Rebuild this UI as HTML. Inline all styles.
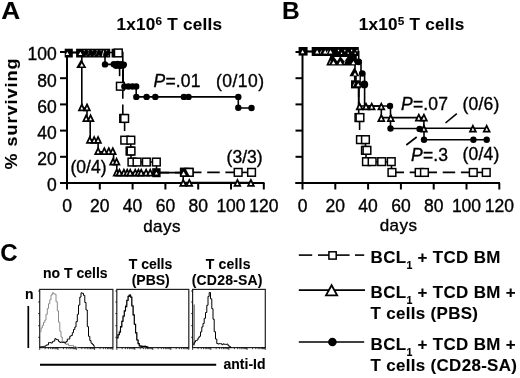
<!DOCTYPE html>
<html><head><meta charset="utf-8"><style>
html,body{margin:0;padding:0;background:#fff;}
svg{display:block;font-family:"Liberation Sans", sans-serif;filter:grayscale(1);}
text{stroke:#000;stroke-width:0.35px;}
text[font-weight="bold"]{stroke-width:0.1px;}
</style></head><body>
<svg width="520" height="378" viewBox="0 0 520 378">
<rect width="520" height="378" fill="#fff"/>
<line x1="67" y1="51" x2="67" y2="184" stroke="#000" stroke-width="2.0" />
<line x1="60" y1="183" x2="264.5" y2="183" stroke="#000" stroke-width="2.0" />
<line x1="60" y1="183.0" x2="67" y2="183.0" stroke="#000" stroke-width="2.0" />
<line x1="60" y1="156.8" x2="67" y2="156.8" stroke="#000" stroke-width="2.0" />
<line x1="60" y1="130.6" x2="67" y2="130.6" stroke="#000" stroke-width="2.0" />
<line x1="60" y1="104.4" x2="67" y2="104.4" stroke="#000" stroke-width="2.0" />
<line x1="60" y1="78.2" x2="67" y2="78.2" stroke="#000" stroke-width="2.0" />
<line x1="60" y1="52.0" x2="67" y2="52.0" stroke="#000" stroke-width="2.0" />
<line x1="67.0" y1="183" x2="67.0" y2="189.5" stroke="#000" stroke-width="2.0" />
<line x1="99.8" y1="183" x2="99.8" y2="189.5" stroke="#000" stroke-width="2.0" />
<line x1="132.6" y1="183" x2="132.6" y2="189.5" stroke="#000" stroke-width="2.0" />
<line x1="165.39999999999998" y1="183" x2="165.39999999999998" y2="189.5" stroke="#000" stroke-width="2.0" />
<line x1="198.2" y1="183" x2="198.2" y2="189.5" stroke="#000" stroke-width="2.0" />
<line x1="231.0" y1="183" x2="231.0" y2="189.5" stroke="#000" stroke-width="2.0" />
<line x1="263.79999999999995" y1="183" x2="263.79999999999995" y2="189.5" stroke="#000" stroke-width="2.0" />
<line x1="302.5" y1="51" x2="302.5" y2="184" stroke="#000" stroke-width="2.0" />
<line x1="295.5" y1="183" x2="500" y2="183" stroke="#000" stroke-width="2.0" />
<line x1="295.5" y1="183.0" x2="302.5" y2="183.0" stroke="#000" stroke-width="2.0" />
<line x1="295.5" y1="156.8" x2="302.5" y2="156.8" stroke="#000" stroke-width="2.0" />
<line x1="295.5" y1="130.6" x2="302.5" y2="130.6" stroke="#000" stroke-width="2.0" />
<line x1="295.5" y1="104.4" x2="302.5" y2="104.4" stroke="#000" stroke-width="2.0" />
<line x1="295.5" y1="78.2" x2="302.5" y2="78.2" stroke="#000" stroke-width="2.0" />
<line x1="295.5" y1="52.0" x2="302.5" y2="52.0" stroke="#000" stroke-width="2.0" />
<line x1="302.5" y1="183" x2="302.5" y2="189.5" stroke="#000" stroke-width="2.0" />
<line x1="335.3" y1="183" x2="335.3" y2="189.5" stroke="#000" stroke-width="2.0" />
<line x1="368.1" y1="183" x2="368.1" y2="189.5" stroke="#000" stroke-width="2.0" />
<line x1="400.9" y1="183" x2="400.9" y2="189.5" stroke="#000" stroke-width="2.0" />
<line x1="433.7" y1="183" x2="433.7" y2="189.5" stroke="#000" stroke-width="2.0" />
<line x1="466.5" y1="183" x2="466.5" y2="189.5" stroke="#000" stroke-width="2.0" />
<line x1="499.29999999999995" y1="183" x2="499.29999999999995" y2="189.5" stroke="#000" stroke-width="2.0" />
<text x="56.8" y="191.3" font-size="17.5" text-anchor="end" >0</text>
<text x="56.8" y="165.10000000000002" font-size="17.5" text-anchor="end" >20</text>
<text x="56.8" y="138.9" font-size="17.5" text-anchor="end" >40</text>
<text x="56.8" y="112.7" font-size="17.5" text-anchor="end" >60</text>
<text x="56.8" y="86.5" font-size="17.5" text-anchor="end" >80</text>
<text x="56.8" y="60.3" font-size="17.5" text-anchor="end" >100</text>
<text x="67.0" y="212" font-size="17.5" text-anchor="middle" >0</text>
<text x="302.5" y="212" font-size="17.5" text-anchor="middle" >0</text>
<text x="99.8" y="212" font-size="17.5" text-anchor="middle" >20</text>
<text x="335.3" y="212" font-size="17.5" text-anchor="middle" >20</text>
<text x="132.6" y="212" font-size="17.5" text-anchor="middle" >40</text>
<text x="368.1" y="212" font-size="17.5" text-anchor="middle" >40</text>
<text x="165.39999999999998" y="212" font-size="17.5" text-anchor="middle" >60</text>
<text x="400.9" y="212" font-size="17.5" text-anchor="middle" >60</text>
<text x="198.2" y="212" font-size="17.5" text-anchor="middle" >80</text>
<text x="433.7" y="212" font-size="17.5" text-anchor="middle" >80</text>
<text x="231.0" y="212" font-size="17.5" text-anchor="middle" >100</text>
<text x="466.5" y="212" font-size="17.5" text-anchor="middle" >100</text>
<text x="263.79999999999995" y="212" font-size="17.5" text-anchor="middle" >120</text>
<text x="499.29999999999995" y="212" font-size="17.5" text-anchor="middle" >120</text>
<text x="143.2" y="231.7" font-size="17" letter-spacing="0.45" text-anchor="start" >days</text>
<text x="379.7" y="231.2" font-size="17" letter-spacing="0.45" text-anchor="start" >days</text>
<text transform="translate(1.2,18.9) scale(1.07,1)" font-size="24.5" font-weight="bold">A</text>
<text x="282" y="18.9" font-size="24.5" font-weight="bold" text-anchor="start" >B</text>
<text x="0.3" y="261" font-size="24" font-weight="bold" text-anchor="start" >C</text>
<text transform="translate(116.5,30.2) scale(1.07,1)" font-size="16" font-weight="bold" letter-spacing="0.22">1x10<tspan font-size="11" dy="-4.8">6</tspan><tspan dy="4.8"> T cells</tspan></text>
<text transform="translate(358.8,30.2) scale(1.07,1)" font-size="16" font-weight="bold" letter-spacing="0.22">1x10<tspan font-size="11" dy="-4.8">5</tspan><tspan dy="4.8"> T cells</tspan></text>
<text transform="translate(17.1,169.6) rotate(-90) scale(1.06,1)" x="0" y="0" font-size="17" font-weight="bold" letter-spacing="0.96">% surviving</text>
<path d="M67,52.5 H122.8 V86.2" fill="none" stroke="#000" stroke-width="1.6" stroke-dasharray="12.5 5.7"/>
<path d="M122.8,86.2 V118.4" fill="none" stroke="#000" stroke-width="1.6" stroke-dasharray="12.5 5.7"/>
<path d="M124.6,118.4 V140.2" fill="none" stroke="#000" stroke-width="1.6" stroke-dasharray="12.5 5.7"/>
<path d="M130.8,140.2 V151" fill="none" stroke="#000" stroke-width="1.6" stroke-dasharray="12.5 5.7"/>
<path d="M131,151 V162" fill="none" stroke="#000" stroke-width="1.6" stroke-dasharray="12.5 5.7"/>
<path d="M131.9,162 H156.5" fill="none" stroke="#000" stroke-width="1.6" stroke-dasharray="12.5 5.7"/>
<path d="M156.5,162 V172.6" fill="none" stroke="#000" stroke-width="1.6" stroke-dasharray="12.5 5.7"/>
<path d="M156.6,172.6 H184.5" fill="none" stroke="#000" stroke-width="1.6" stroke-dasharray="12.5 5.7"/>
<path d="M189,172.4 H238.2" fill="none" stroke="#000" stroke-width="1.6" stroke-dasharray="12.5 5.7"/>
<path d="M238.2,172.4 H251.5" fill="none" stroke="#000" stroke-width="1.6" stroke-dasharray="12.5 5.7"/>
<path d="M67,52.5 H81.8 V108 H87 V118.4 H90.2 V140.2 H98.1 V151.7 H113.6 V162 H116.8 V172.6 H183.2 V182.5 H251" fill="none" stroke="#000" stroke-width="1.6"/>
<path d="M67,52.5 H105 V64.4 H123.2 V86.5 H136.2 V96.9 H238.3 V108 H251.5" fill="none" stroke="#000" stroke-width="1.6"/>
<line x1="119.6" y1="68" x2="119.6" y2="76.2" stroke="#000" stroke-width="1.6" />
<rect x="76.1" y="48.7" width="34.1" height="8.8" fill="#000"/>
<rect x="111.6" y="48.7" width="3" height="8.8" fill="#000"/>
<rect x="64.7" y="48.7" width="8.1" height="8.8" fill="#000"/>
<path d="M67.4,51.7 L69.2,55.1 L65.6,55.1 Z" fill="#fff"/>
<path d="M80.4,51.7 L82.2,55.1 L78.6,55.1 Z" fill="#fff"/>
<rect x="83.7" y="50.0" width="1.3" height="1.2" fill="#777"/>
<rect x="85.5" y="55.2" width="1.3" height="1.1" fill="#666"/>
<rect x="87.80000000000001" y="50.0" width="1.3" height="1.2" fill="#777"/>
<rect x="89.60000000000001" y="55.2" width="1.3" height="1.1" fill="#666"/>
<rect x="91.80000000000001" y="50.0" width="1.3" height="1.2" fill="#777"/>
<rect x="93.60000000000001" y="55.2" width="1.3" height="1.1" fill="#666"/>
<rect x="96.4" y="50.0" width="1.3" height="1.2" fill="#777"/>
<rect x="98.2" y="55.2" width="1.3" height="1.1" fill="#666"/>
<rect x="100.4" y="50.0" width="1.3" height="1.2" fill="#777"/>
<rect x="102.2" y="55.2" width="1.3" height="1.1" fill="#666"/>
<rect x="105.9" y="50.0" width="1.3" height="1.2" fill="#777"/>
<rect x="107.7" y="55.2" width="1.3" height="1.1" fill="#666"/>
<path d="M87.3,55 L88.9,51.6 L89.5,51.6 L87.9,55 Z" fill="#666"/>
<path d="M95.3,55 L96.9,51.6 L97.5,51.6 L95.9,55 Z" fill="#666"/>
<path d="M101.8,56.3 L103.3,50.6 L104.2,50.6 L102.7,56.3 Z" fill="#eee"/>
<rect x="114.5" y="49.1" width="7.7" height="7.7" fill="#fff" stroke="#000" stroke-width="1.5"/>
<path d="M81.3,58.9 L86.4,67.9 L76.2,67.9 Z" fill="#000"/>
<path d="M81.8,63.3 L83.6,66.5 L80.0,66.5 Z" fill="#fff"/>
<path d="M81.8,104.5 L84.6,110.3 L79.0,110.3 Z" fill="#fff" stroke="#000" stroke-width="1.75" stroke-linejoin="miter"/>
<path d="M87.0,104.5 L89.8,110.3 L84.2,110.3 Z" fill="#fff" stroke="#000" stroke-width="1.75" stroke-linejoin="miter"/>
<path d="M86.2,115.3 L89.0,121.1 L83.4,121.1 Z" fill="#fff" stroke="#000" stroke-width="1.75" stroke-linejoin="miter"/>
<path d="M90.6,115.3 L93.4,121.1 L87.8,121.1 Z" fill="#fff" stroke="#000" stroke-width="1.75" stroke-linejoin="miter"/>
<path d="M89.8,137.1 L92.6,142.9 L87.0,142.9 Z" fill="#fff" stroke="#000" stroke-width="1.75" stroke-linejoin="miter"/>
<path d="M94.2,137.1 L97.0,142.9 L91.4,142.9 Z" fill="#fff" stroke="#000" stroke-width="1.75" stroke-linejoin="miter"/>
<path d="M98.1,137.1 L100.9,142.9 L95.2,142.9 Z" fill="#fff" stroke="#000" stroke-width="1.75" stroke-linejoin="miter"/>
<path d="M98.1,148.2 L100.9,154.0 L95.2,154.0 Z" fill="#fff" stroke="#000" stroke-width="1.75" stroke-linejoin="miter"/>
<path d="M108.8,148.2 L111.6,154.0 L106.0,154.0 Z" fill="#fff" stroke="#000" stroke-width="1.75" stroke-linejoin="miter"/>
<path d="M104.3,148.2 L107.1,154.0 L101.5,154.0 Z" fill="#fff" stroke="#000" stroke-width="1.75" stroke-linejoin="miter"/>
<path d="M112.8,148.2 L115.6,154.0 L110.0,154.0 Z" fill="#fff" stroke="#000" stroke-width="1.75" stroke-linejoin="miter"/>
<path d="M113.1,158.8 L115.9,164.6 L110.2,164.6 Z" fill="#fff" stroke="#000" stroke-width="1.75" stroke-linejoin="miter"/>
<path d="M116.6,158.8 L119.4,164.6 L113.8,164.6 Z" fill="#fff" stroke="#000" stroke-width="1.75" stroke-linejoin="miter"/>
<path d="M183.2,180.0 L186.0,185.8 L180.3,185.8 Z" fill="#fff" stroke="#000" stroke-width="1.75" stroke-linejoin="miter"/>
<path d="M189.3,180.0 L192.2,185.8 L186.5,185.8 Z" fill="#fff" stroke="#000" stroke-width="1.75" stroke-linejoin="miter"/>
<path d="M237.4,180.0 L240.2,185.8 L234.6,185.8 Z" fill="#fff" stroke="#000" stroke-width="1.75" stroke-linejoin="miter"/>
<path d="M250.9,180.0 L253.8,185.8 L248.1,185.8 Z" fill="#fff" stroke="#000" stroke-width="1.75" stroke-linejoin="miter"/>
<path d="M116.6,169.7 L119.4,175.5 L113.8,175.5 Z" fill="#fff" stroke="#000" stroke-width="1.75" stroke-linejoin="miter"/>
<path d="M119.4,169.7 L122.2,175.5 L116.6,175.5 Z" fill="#fff" stroke="#000" stroke-width="1.75" stroke-linejoin="miter"/>
<path d="M123.9,169.7 L126.8,175.5 L121.1,175.5 Z" fill="#fff" stroke="#000" stroke-width="1.75" stroke-linejoin="miter"/>
<path d="M127.2,169.7 L130.1,175.5 L124.4,175.5 Z" fill="#fff" stroke="#000" stroke-width="1.75" stroke-linejoin="miter"/>
<path d="M130.2,169.7 L133.0,175.5 L127.3,175.5 Z" fill="#fff" stroke="#000" stroke-width="1.75" stroke-linejoin="miter"/>
<path d="M135.2,169.7 L138.0,175.5 L132.3,175.5 Z" fill="#fff" stroke="#000" stroke-width="1.75" stroke-linejoin="miter"/>
<path d="M138.4,169.7 L141.2,175.5 L135.6,175.5 Z" fill="#fff" stroke="#000" stroke-width="1.75" stroke-linejoin="miter"/>
<path d="M141.2,169.7 L144.0,175.5 L138.3,175.5 Z" fill="#fff" stroke="#000" stroke-width="1.75" stroke-linejoin="miter"/>
<path d="M146.1,169.7 L148.9,175.5 L143.2,175.5 Z" fill="#fff" stroke="#000" stroke-width="1.75" stroke-linejoin="miter"/>
<path d="M150.2,169.7 L153.0,175.5 L147.3,175.5 Z" fill="#fff" stroke="#000" stroke-width="1.75" stroke-linejoin="miter"/>
<rect x="116.5" y="82.4" width="7.7" height="7.7" fill="#fff" stroke="#000" stroke-width="1.5"/>
<rect x="119.8" y="114.6" width="7.7" height="7.7" fill="#fff" stroke="#000" stroke-width="1.5"/>
<rect x="120.8" y="114.6" width="7.7" height="7.7" fill="#fff" stroke="#000" stroke-width="1.5"/>
<rect x="120.9" y="136.3" width="7.7" height="7.7" fill="#fff" stroke="#000" stroke-width="1.5"/>
<rect x="127.0" y="136.3" width="7.7" height="7.7" fill="#fff" stroke="#000" stroke-width="1.5"/>
<rect x="126.2" y="147.2" width="7.7" height="7.7" fill="#fff" stroke="#000" stroke-width="1.5"/>
<rect x="127.2" y="147.2" width="7.7" height="7.7" fill="#fff" stroke="#000" stroke-width="1.5"/>
<rect x="128.1" y="158.2" width="7.7" height="7.7" fill="#fff" stroke="#000" stroke-width="1.5"/>
<rect x="133.2" y="158.2" width="7.7" height="7.7" fill="#fff" stroke="#000" stroke-width="1.5"/>
<rect x="142.5" y="158.2" width="7.7" height="7.7" fill="#fff" stroke="#000" stroke-width="1.5"/>
<rect x="152.5" y="158.2" width="7.7" height="7.7" fill="#fff" stroke="#000" stroke-width="1.5"/>
<rect x="180.7" y="168.5" width="7.7" height="7.7" fill="#fff" stroke="#000" stroke-width="1.5"/>
<rect x="185.2" y="168.5" width="7.7" height="7.7" fill="#fff" stroke="#000" stroke-width="1.5"/>
<rect x="234.3" y="168.5" width="7.7" height="7.7" fill="#fff" stroke="#000" stroke-width="1.5"/>
<rect x="247.7" y="168.5" width="7.7" height="7.7" fill="#fff" stroke="#000" stroke-width="1.5"/>
<rect x="185.3" y="168.5" width="7.7" height="7.7" fill="#fff" stroke="#000" stroke-width="1.5"/>
<path d="M179.9,167.8 L185.2,167.8 L190,176.8 L179.9,176.8 Z" fill="#000"/>
<path d="M183.6,171.5 L185.7,175.3 L181.5,175.3 Z" fill="#fff"/>
<rect x="152.2" y="168.2" width="8.4" height="9" fill="#000"/>
<path d="M156.4,171.8 L158.0,174.6 L154.8,174.6 Z" fill="#fff"/>
<circle cx="105.0" cy="64.4" r="3.2" fill="#000"/>
<circle cx="113.8" cy="64.2" r="3.2" fill="#000"/>
<circle cx="117.5" cy="64.0" r="3.2" fill="#000"/>
<circle cx="121.0" cy="64.2" r="3.2" fill="#000"/>
<circle cx="123.8" cy="64.6" r="3.2" fill="#000"/>
<circle cx="116.0" cy="65.8" r="3.2" fill="#000"/>
<circle cx="120.0" cy="65.9" r="3.2" fill="#000"/>
<circle cx="123.0" cy="65.6" r="3.2" fill="#000"/>
<circle cx="124.4" cy="86.5" r="3.2" fill="#000"/>
<circle cx="128.5" cy="86.5" r="3.2" fill="#000"/>
<circle cx="132.5" cy="86.5" r="3.2" fill="#000"/>
<circle cx="136.2" cy="86.5" r="3.2" fill="#000"/>
<circle cx="136.3" cy="96.9" r="3.2" fill="#000"/>
<circle cx="146.6" cy="96.9" r="3.2" fill="#000"/>
<circle cx="155.3" cy="96.9" r="3.2" fill="#000"/>
<circle cx="183.9" cy="96.9" r="3.2" fill="#000"/>
<circle cx="188.5" cy="96.9" r="3.2" fill="#000"/>
<circle cx="238.3" cy="96.9" r="3.2" fill="#000"/>
<circle cx="238.3" cy="107.8" r="3.2" fill="#000"/>
<circle cx="251.5" cy="108.0" r="3.2" fill="#000"/>
<text x="153.5" y="87" font-size="17.5" letter-spacing="0.2"><tspan font-style="italic">P</tspan>=.01</text>
<text x="216" y="87" font-size="17.5" letter-spacing="0.45" text-anchor="start" >(0/10)</text>
<text x="70.5" y="173.3" font-size="17.5" text-anchor="start" >(0/4)</text>
<text x="226.6" y="162.6" font-size="17.5" text-anchor="start" >(3/3)</text>
<path d="M302.5,51.5 H356 V84.4" fill="none" stroke="#000" stroke-width="1.6" stroke-dasharray="12.5 5.7"/>
<path d="M358.7,84.4 V117.5" fill="none" stroke="#000" stroke-width="1.6" stroke-dasharray="12.5 5.7"/>
<path d="M359.6,117.5 V139.6" fill="none" stroke="#000" stroke-width="1.6" stroke-dasharray="12.5 5.7"/>
<path d="M365.5,139.6 V150.3" fill="none" stroke="#000" stroke-width="1.6" stroke-dasharray="12.5 5.7"/>
<path d="M366,150.3 V161.7" fill="none" stroke="#000" stroke-width="1.6" stroke-dasharray="12.5 5.7"/>
<path d="M366.5,161.7 H391.3" fill="none" stroke="#000" stroke-width="1.6" stroke-dasharray="12.5 5.7"/>
<path d="M391.5,161.7 V172.4" fill="none" stroke="#000" stroke-width="1.6" stroke-dasharray="12.5 5.7"/>
<path d="M391.5,172.4 H419.2" fill="none" stroke="#000" stroke-width="1.6" stroke-dasharray="12.5 5.7"/>
<path d="M424.5,172.4 H473.3" fill="none" stroke="#000" stroke-width="1.6" stroke-dasharray="12.5 5.7"/>
<path d="M473.3,172.4 H486.3" fill="none" stroke="#000" stroke-width="1.6" stroke-dasharray="12.5 5.7"/>
<path d="M302.5,51.5 H331 V62 H355 V84.4 H358.7 V106 H381.3 V117.6 H423.9 V128.2 H486.7" fill="none" stroke="#000" stroke-width="1.6"/>
<path d="M302.5,51.5 H358.7 V61 H361 V73.2 H364.6 V106 H390.5 V128.5 H424 V139.7 H486.7" fill="none" stroke="#000" stroke-width="1.6"/>
<line x1="358.7" y1="84" x2="358.7" y2="106" stroke="#000" stroke-width="1.6" />
<rect x="311.7" y="47" width="47.1" height="9" fill="#000"/>
<rect x="298.6" y="47" width="9" height="8.6" fill="#000"/>
<path d="M302.6,50.1 L304.3,53.3 L300.9,53.3 Z" fill="#fff"/>
<path d="M317.1,50.1 L319.1,53.5 L315.2,53.5 Z" fill="#fff"/>
<path d="M325.2,50.1 L327.1,53.5 L323.2,53.5 Z" fill="#fff"/>
<path d="M330.5,50.1 L332.4,53.5 L328.6,53.5 Z" fill="#fff"/>
<path d="M319.8,53.4 L321.2,50.4 L321.9,50.4 L320.5,53.4 Z" fill="#fff"/>
<path d="M326.40000000000003,53.4 L327.8,50.4 L328.5,50.4 L327.1,53.4 Z" fill="#fff"/>
<rect x="337.9" y="49.8" width="1.2" height="1.4" fill="#fff"/>
<rect x="340.9" y="52.599999999999994" width="1.2" height="1.4" fill="#fff"/>
<rect x="344.2" y="49.9" width="1.2" height="1.4" fill="#fff"/>
<rect x="347.59999999999997" y="52.5" width="1.2" height="1.4" fill="#fff"/>
<rect x="351.0" y="49.8" width="1.2" height="1.4" fill="#fff"/>
<rect x="354.59999999999997" y="52.599999999999994" width="1.2" height="1.4" fill="#fff"/>
<rect x="356.4" y="49.9" width="1.2" height="1.4" fill="#fff"/>
<path d="M326.2,65.4 L330.6,55.8 L356,55.8 L356,65.4 Z" fill="#000"/>
<path d="M334.1,57.0 L339.8,57.0 L337.2,61.2 Z" fill="#fff"/>
<path d="M340.9,57.0 L347.5,57.0 L344.4,61.2 Z" fill="#fff"/>
<path d="M333.5,60.9 L335.4,64.3 L331.6,64.3 Z" fill="#fff"/>
<path d="M340.3,60.9 L342.2,64.3 L338.4,64.3 Z" fill="#fff"/>
<path d="M353.4,60.9 L355.3,64.3 L351.4,64.3 Z" fill="#fff"/>
<path d="M329.0,64 L330.3,60.8 L330.9,60.8 L329.6,64 Z" fill="#fff"/>
<path d="M343.7,64 L345.0,60.8 L345.59999999999997,60.8 L344.3,64 Z" fill="#fff"/>
<circle cx="358.6" cy="61.8" r="3.4" fill="#000"/>
<path d="M354.4,67.2 L359.4,76.3 L349.4,76.3 Z" fill="#000"/>
<path d="M355.0,72.5 L356.8,75.5 L353.2,75.5 Z" fill="#fff"/>
<circle cx="362.2" cy="73.5" r="3.3" fill="#000"/>
<line x1="354.6" y1="76" x2="354.6" y2="80.5" stroke="#000" stroke-width="1.4" />
<line x1="360.2" y1="76" x2="360.2" y2="80.5" stroke="#000" stroke-width="1.4" />
<rect x="351" y="80.3" width="9.9" height="8.1" fill="#000"/>
<path d="M358.2,83.0 L359.9,86.2 L356.5,86.2 Z" fill="#fff"/>
<path d="M352.8,86.3 L354.2,82.8 L354.9,82.8 L353.5,86.3 Z" fill="#fff"/>
<circle cx="364.3" cy="84.4" r="3.9" fill="#000"/>
<path d="M359.6,103.6 L362.5,109.4 L356.8,109.4 Z" fill="#fff" stroke="#000" stroke-width="1.75" stroke-linejoin="miter"/>
<path d="M366.0,103.6 L368.9,109.4 L363.1,109.4 Z" fill="#fff" stroke="#000" stroke-width="1.75" stroke-linejoin="miter"/>
<path d="M371.7,103.6 L374.6,109.4 L368.8,109.4 Z" fill="#fff" stroke="#000" stroke-width="1.75" stroke-linejoin="miter"/>
<path d="M381.3,103.6 L384.2,109.4 L378.4,109.4 Z" fill="#fff" stroke="#000" stroke-width="1.75" stroke-linejoin="miter"/>
<path d="M381.3,115.2 L384.2,121.0 L378.4,121.0 Z" fill="#fff" stroke="#000" stroke-width="1.75" stroke-linejoin="miter"/>
<path d="M390.8,115.2 L393.7,121.0 L387.9,121.0 Z" fill="#fff" stroke="#000" stroke-width="1.75" stroke-linejoin="miter"/>
<path d="M418.8,114.7 L421.7,120.5 L415.9,120.5 Z" fill="#fff" stroke="#000" stroke-width="1.75" stroke-linejoin="miter"/>
<path d="M423.9,114.7 L426.8,120.5 L421.0,120.5 Z" fill="#fff" stroke="#000" stroke-width="1.75" stroke-linejoin="miter"/>
<path d="M423.9,125.8 L426.8,131.6 L421.0,131.6 Z" fill="#fff" stroke="#000" stroke-width="1.75" stroke-linejoin="miter"/>
<path d="M472.9,125.8 L475.8,131.6 L470.0,131.6 Z" fill="#fff" stroke="#000" stroke-width="1.75" stroke-linejoin="miter"/>
<path d="M486.7,125.8 L489.6,131.6 L483.8,131.6 Z" fill="#fff" stroke="#000" stroke-width="1.75" stroke-linejoin="miter"/>
<circle cx="390.0" cy="106.0" r="3.2" fill="#000"/>
<circle cx="390.5" cy="128.5" r="3.2" fill="#000"/>
<circle cx="419.6" cy="128.9" r="3.2" fill="#000"/>
<circle cx="424.0" cy="139.7" r="3.2" fill="#000"/>
<circle cx="473.4" cy="139.7" r="3.2" fill="#000"/>
<circle cx="486.7" cy="139.7" r="3.2" fill="#000"/>
<rect x="355.1" y="113.7" width="7.7" height="7.7" fill="#fff" stroke="#000" stroke-width="1.5"/>
<rect x="356.1" y="113.7" width="7.7" height="7.7" fill="#fff" stroke="#000" stroke-width="1.5"/>
<rect x="356.6" y="135.8" width="7.7" height="7.7" fill="#fff" stroke="#000" stroke-width="1.5"/>
<rect x="361.6" y="135.8" width="7.7" height="7.7" fill="#fff" stroke="#000" stroke-width="1.5"/>
<rect x="361.6" y="146.5" width="7.7" height="7.7" fill="#fff" stroke="#000" stroke-width="1.5"/>
<rect x="363.1" y="146.5" width="7.7" height="7.7" fill="#fff" stroke="#000" stroke-width="1.5"/>
<rect x="362.6" y="157.8" width="7.7" height="7.7" fill="#fff" stroke="#000" stroke-width="1.5"/>
<rect x="368.3" y="157.8" width="7.7" height="7.7" fill="#fff" stroke="#000" stroke-width="1.5"/>
<rect x="377.8" y="157.8" width="7.7" height="7.7" fill="#fff" stroke="#000" stroke-width="1.5"/>
<rect x="387.4" y="157.8" width="7.7" height="7.7" fill="#fff" stroke="#000" stroke-width="1.5"/>
<rect x="388.1" y="168.6" width="7.7" height="7.7" fill="#fff" stroke="#000" stroke-width="1.5"/>
<rect x="415.3" y="168.6" width="7.7" height="7.7" fill="#fff" stroke="#000" stroke-width="1.5"/>
<rect x="420.6" y="168.6" width="7.7" height="7.7" fill="#fff" stroke="#000" stroke-width="1.5"/>
<rect x="469.4" y="168.6" width="7.7" height="7.7" fill="#fff" stroke="#000" stroke-width="1.5"/>
<rect x="482.4" y="168.6" width="7.7" height="7.7" fill="#fff" stroke="#000" stroke-width="1.5"/>
<text x="401" y="110.4" font-size="17.5" letter-spacing="0.2"><tspan font-style="italic">P</tspan>=.07</text>
<text x="462.6" y="109.6" font-size="17.5" letter-spacing="0.2" text-anchor="start" >(0/6)</text>
<text x="411" y="160.6" font-size="17.5" letter-spacing="0.2"><tspan font-style="italic">P</tspan>=.3</text>
<text x="462.6" y="160.0" font-size="17.5" letter-spacing="0.2" text-anchor="start" >(0/4)</text>
<line x1="445.5" y1="123" x2="456.8" y2="113.6" stroke="#000" stroke-width="1.6" />
<line x1="406.3" y1="145" x2="416.7" y2="137" stroke="#000" stroke-width="1.6" />
<text x="43" y="277.6" font-size="14" font-weight="bold" text-anchor="start" >no T cells</text>
<text x="150.5" y="268.5" font-size="14" font-weight="bold" text-anchor="middle" >T cells</text>
<text x="150.7" y="285" font-size="14" font-weight="bold" text-anchor="middle" >(PBS)</text>
<text x="228.2" y="268.5" font-size="14" font-weight="bold" letter-spacing="0.2" text-anchor="middle" >T cells</text>
<text x="227.2" y="285" font-size="14" font-weight="bold" letter-spacing="0.2" text-anchor="middle" >(CD28-SA)</text>
<text x="25" y="298.8" font-size="14" font-weight="bold" text-anchor="start" >n</text>
<line x1="28.3" y1="306" x2="28.3" y2="348" stroke="#000" stroke-width="1.7" />
<line x1="40" y1="364.7" x2="216.2" y2="364.7" stroke="#000" stroke-width="2" />
<text x="223.5" y="369" font-size="14" font-weight="bold" text-anchor="start" >anti-Id</text>
<rect x="39.7" y="289.4" width="73.2" height="58.200000000000045" fill="none" stroke="#222" stroke-width="1.2"/>
<line x1="38.2" y1="291" x2="39.7" y2="291" stroke="#000" stroke-width="0.8" />
<line x1="38.2" y1="302" x2="39.7" y2="302" stroke="#000" stroke-width="0.8" />
<line x1="38.2" y1="313.6" x2="39.7" y2="313.6" stroke="#000" stroke-width="0.8" />
<line x1="38.2" y1="325.7" x2="39.7" y2="325.7" stroke="#000" stroke-width="0.8" />
<line x1="38.2" y1="337.3" x2="39.7" y2="337.3" stroke="#000" stroke-width="0.8" />
<line x1="39.7" y1="347.6" x2="39.7" y2="350.0" stroke="#000" stroke-width="0.7" />
<line x1="45.2" y1="347.6" x2="45.2" y2="349.20000000000005" stroke="#000" stroke-width="0.7" />
<line x1="48.4" y1="347.6" x2="48.4" y2="349.20000000000005" stroke="#000" stroke-width="0.7" />
<line x1="50.7" y1="347.6" x2="50.7" y2="349.20000000000005" stroke="#000" stroke-width="0.7" />
<line x1="52.5" y1="347.6" x2="52.5" y2="349.20000000000005" stroke="#000" stroke-width="0.7" />
<line x1="53.9" y1="347.6" x2="53.9" y2="349.20000000000005" stroke="#000" stroke-width="0.7" />
<line x1="55.2" y1="347.6" x2="55.2" y2="349.20000000000005" stroke="#000" stroke-width="0.7" />
<line x1="56.2" y1="347.6" x2="56.2" y2="349.20000000000005" stroke="#000" stroke-width="0.7" />
<line x1="57.2" y1="347.6" x2="57.2" y2="349.20000000000005" stroke="#000" stroke-width="0.7" />
<line x1="58.0" y1="347.6" x2="58.0" y2="350.0" stroke="#000" stroke-width="0.7" />
<line x1="63.5" y1="347.6" x2="63.5" y2="349.20000000000005" stroke="#000" stroke-width="0.7" />
<line x1="66.7" y1="347.6" x2="66.7" y2="349.20000000000005" stroke="#000" stroke-width="0.7" />
<line x1="69.0" y1="347.6" x2="69.0" y2="349.20000000000005" stroke="#000" stroke-width="0.7" />
<line x1="70.8" y1="347.6" x2="70.8" y2="349.20000000000005" stroke="#000" stroke-width="0.7" />
<line x1="72.2" y1="347.6" x2="72.2" y2="349.20000000000005" stroke="#000" stroke-width="0.7" />
<line x1="73.5" y1="347.6" x2="73.5" y2="349.20000000000005" stroke="#000" stroke-width="0.7" />
<line x1="74.5" y1="347.6" x2="74.5" y2="349.20000000000005" stroke="#000" stroke-width="0.7" />
<line x1="75.5" y1="347.6" x2="75.5" y2="349.20000000000005" stroke="#000" stroke-width="0.7" />
<line x1="76.3" y1="347.6" x2="76.3" y2="350.0" stroke="#000" stroke-width="0.7" />
<line x1="81.8" y1="347.6" x2="81.8" y2="349.20000000000005" stroke="#000" stroke-width="0.7" />
<line x1="85.0" y1="347.6" x2="85.0" y2="349.20000000000005" stroke="#000" stroke-width="0.7" />
<line x1="87.3" y1="347.6" x2="87.3" y2="349.20000000000005" stroke="#000" stroke-width="0.7" />
<line x1="89.1" y1="347.6" x2="89.1" y2="349.20000000000005" stroke="#000" stroke-width="0.7" />
<line x1="90.5" y1="347.6" x2="90.5" y2="349.20000000000005" stroke="#000" stroke-width="0.7" />
<line x1="91.8" y1="347.6" x2="91.8" y2="349.20000000000005" stroke="#000" stroke-width="0.7" />
<line x1="92.8" y1="347.6" x2="92.8" y2="349.20000000000005" stroke="#000" stroke-width="0.7" />
<line x1="93.8" y1="347.6" x2="93.8" y2="349.20000000000005" stroke="#000" stroke-width="0.7" />
<line x1="94.6" y1="347.6" x2="94.6" y2="350.0" stroke="#000" stroke-width="0.7" />
<line x1="100.1" y1="347.6" x2="100.1" y2="349.20000000000005" stroke="#000" stroke-width="0.7" />
<line x1="103.3" y1="347.6" x2="103.3" y2="349.20000000000005" stroke="#000" stroke-width="0.7" />
<line x1="105.6" y1="347.6" x2="105.6" y2="349.20000000000005" stroke="#000" stroke-width="0.7" />
<line x1="107.4" y1="347.6" x2="107.4" y2="349.20000000000005" stroke="#000" stroke-width="0.7" />
<line x1="108.8" y1="347.6" x2="108.8" y2="349.20000000000005" stroke="#000" stroke-width="0.7" />
<line x1="110.1" y1="347.6" x2="110.1" y2="349.20000000000005" stroke="#000" stroke-width="0.7" />
<line x1="111.1" y1="347.6" x2="111.1" y2="349.20000000000005" stroke="#000" stroke-width="0.7" />
<line x1="112.1" y1="347.6" x2="112.1" y2="349.20000000000005" stroke="#000" stroke-width="0.7" />
<line x1="112.9" y1="347.6" x2="112.9" y2="350.0" stroke="#000" stroke-width="0.7" />
<rect x="116.8" y="289.4" width="72.00000000000001" height="58.200000000000045" fill="none" stroke="#222" stroke-width="1.2"/>
<line x1="115.3" y1="291" x2="116.8" y2="291" stroke="#000" stroke-width="0.8" />
<line x1="115.3" y1="302" x2="116.8" y2="302" stroke="#000" stroke-width="0.8" />
<line x1="115.3" y1="313.6" x2="116.8" y2="313.6" stroke="#000" stroke-width="0.8" />
<line x1="115.3" y1="325.7" x2="116.8" y2="325.7" stroke="#000" stroke-width="0.8" />
<line x1="115.3" y1="337.3" x2="116.8" y2="337.3" stroke="#000" stroke-width="0.8" />
<line x1="116.8" y1="347.6" x2="116.8" y2="350.0" stroke="#000" stroke-width="0.7" />
<line x1="122.2" y1="347.6" x2="122.2" y2="349.20000000000005" stroke="#000" stroke-width="0.7" />
<line x1="125.4" y1="347.6" x2="125.4" y2="349.20000000000005" stroke="#000" stroke-width="0.7" />
<line x1="127.6" y1="347.6" x2="127.6" y2="349.20000000000005" stroke="#000" stroke-width="0.7" />
<line x1="129.4" y1="347.6" x2="129.4" y2="349.20000000000005" stroke="#000" stroke-width="0.7" />
<line x1="130.8" y1="347.6" x2="130.8" y2="349.20000000000005" stroke="#000" stroke-width="0.7" />
<line x1="132.0" y1="347.6" x2="132.0" y2="349.20000000000005" stroke="#000" stroke-width="0.7" />
<line x1="133.1" y1="347.6" x2="133.1" y2="349.20000000000005" stroke="#000" stroke-width="0.7" />
<line x1="134.0" y1="347.6" x2="134.0" y2="349.20000000000005" stroke="#000" stroke-width="0.7" />
<line x1="134.8" y1="347.6" x2="134.8" y2="350.0" stroke="#000" stroke-width="0.7" />
<line x1="140.2" y1="347.6" x2="140.2" y2="349.20000000000005" stroke="#000" stroke-width="0.7" />
<line x1="143.4" y1="347.6" x2="143.4" y2="349.20000000000005" stroke="#000" stroke-width="0.7" />
<line x1="145.6" y1="347.6" x2="145.6" y2="349.20000000000005" stroke="#000" stroke-width="0.7" />
<line x1="147.4" y1="347.6" x2="147.4" y2="349.20000000000005" stroke="#000" stroke-width="0.7" />
<line x1="148.8" y1="347.6" x2="148.8" y2="349.20000000000005" stroke="#000" stroke-width="0.7" />
<line x1="150.0" y1="347.6" x2="150.0" y2="349.20000000000005" stroke="#000" stroke-width="0.7" />
<line x1="151.1" y1="347.6" x2="151.1" y2="349.20000000000005" stroke="#000" stroke-width="0.7" />
<line x1="152.0" y1="347.6" x2="152.0" y2="349.20000000000005" stroke="#000" stroke-width="0.7" />
<line x1="152.8" y1="347.6" x2="152.8" y2="350.0" stroke="#000" stroke-width="0.7" />
<line x1="158.2" y1="347.6" x2="158.2" y2="349.20000000000005" stroke="#000" stroke-width="0.7" />
<line x1="161.4" y1="347.6" x2="161.4" y2="349.20000000000005" stroke="#000" stroke-width="0.7" />
<line x1="163.6" y1="347.6" x2="163.6" y2="349.20000000000005" stroke="#000" stroke-width="0.7" />
<line x1="165.4" y1="347.6" x2="165.4" y2="349.20000000000005" stroke="#000" stroke-width="0.7" />
<line x1="166.8" y1="347.6" x2="166.8" y2="349.20000000000005" stroke="#000" stroke-width="0.7" />
<line x1="168.0" y1="347.6" x2="168.0" y2="349.20000000000005" stroke="#000" stroke-width="0.7" />
<line x1="169.1" y1="347.6" x2="169.1" y2="349.20000000000005" stroke="#000" stroke-width="0.7" />
<line x1="170.0" y1="347.6" x2="170.0" y2="349.20000000000005" stroke="#000" stroke-width="0.7" />
<line x1="170.8" y1="347.6" x2="170.8" y2="350.0" stroke="#000" stroke-width="0.7" />
<line x1="176.2" y1="347.6" x2="176.2" y2="349.20000000000005" stroke="#000" stroke-width="0.7" />
<line x1="179.4" y1="347.6" x2="179.4" y2="349.20000000000005" stroke="#000" stroke-width="0.7" />
<line x1="181.6" y1="347.6" x2="181.6" y2="349.20000000000005" stroke="#000" stroke-width="0.7" />
<line x1="183.4" y1="347.6" x2="183.4" y2="349.20000000000005" stroke="#000" stroke-width="0.7" />
<line x1="184.8" y1="347.6" x2="184.8" y2="349.20000000000005" stroke="#000" stroke-width="0.7" />
<line x1="186.0" y1="347.6" x2="186.0" y2="349.20000000000005" stroke="#000" stroke-width="0.7" />
<line x1="187.1" y1="347.6" x2="187.1" y2="349.20000000000005" stroke="#000" stroke-width="0.7" />
<line x1="188.0" y1="347.6" x2="188.0" y2="349.20000000000005" stroke="#000" stroke-width="0.7" />
<line x1="188.8" y1="347.6" x2="188.8" y2="350.0" stroke="#000" stroke-width="0.7" />
<rect x="192.6" y="289.4" width="72.70000000000002" height="58.200000000000045" fill="none" stroke="#222" stroke-width="1.2"/>
<line x1="191.1" y1="291" x2="192.6" y2="291" stroke="#000" stroke-width="0.8" />
<line x1="191.1" y1="302" x2="192.6" y2="302" stroke="#000" stroke-width="0.8" />
<line x1="191.1" y1="313.6" x2="192.6" y2="313.6" stroke="#000" stroke-width="0.8" />
<line x1="191.1" y1="325.7" x2="192.6" y2="325.7" stroke="#000" stroke-width="0.8" />
<line x1="191.1" y1="337.3" x2="192.6" y2="337.3" stroke="#000" stroke-width="0.8" />
<line x1="192.6" y1="347.6" x2="192.6" y2="350.0" stroke="#000" stroke-width="0.7" />
<line x1="198.1" y1="347.6" x2="198.1" y2="349.20000000000005" stroke="#000" stroke-width="0.7" />
<line x1="201.3" y1="347.6" x2="201.3" y2="349.20000000000005" stroke="#000" stroke-width="0.7" />
<line x1="203.5" y1="347.6" x2="203.5" y2="349.20000000000005" stroke="#000" stroke-width="0.7" />
<line x1="205.3" y1="347.6" x2="205.3" y2="349.20000000000005" stroke="#000" stroke-width="0.7" />
<line x1="206.7" y1="347.6" x2="206.7" y2="349.20000000000005" stroke="#000" stroke-width="0.7" />
<line x1="208.0" y1="347.6" x2="208.0" y2="349.20000000000005" stroke="#000" stroke-width="0.7" />
<line x1="209.0" y1="347.6" x2="209.0" y2="349.20000000000005" stroke="#000" stroke-width="0.7" />
<line x1="209.9" y1="347.6" x2="209.9" y2="349.20000000000005" stroke="#000" stroke-width="0.7" />
<line x1="210.8" y1="347.6" x2="210.8" y2="350.0" stroke="#000" stroke-width="0.7" />
<line x1="216.2" y1="347.6" x2="216.2" y2="349.20000000000005" stroke="#000" stroke-width="0.7" />
<line x1="219.4" y1="347.6" x2="219.4" y2="349.20000000000005" stroke="#000" stroke-width="0.7" />
<line x1="221.7" y1="347.6" x2="221.7" y2="349.20000000000005" stroke="#000" stroke-width="0.7" />
<line x1="223.5" y1="347.6" x2="223.5" y2="349.20000000000005" stroke="#000" stroke-width="0.7" />
<line x1="224.9" y1="347.6" x2="224.9" y2="349.20000000000005" stroke="#000" stroke-width="0.7" />
<line x1="226.1" y1="347.6" x2="226.1" y2="349.20000000000005" stroke="#000" stroke-width="0.7" />
<line x1="227.2" y1="347.6" x2="227.2" y2="349.20000000000005" stroke="#000" stroke-width="0.7" />
<line x1="228.1" y1="347.6" x2="228.1" y2="349.20000000000005" stroke="#000" stroke-width="0.7" />
<line x1="228.9" y1="347.6" x2="228.9" y2="350.0" stroke="#000" stroke-width="0.7" />
<line x1="234.4" y1="347.6" x2="234.4" y2="349.20000000000005" stroke="#000" stroke-width="0.7" />
<line x1="237.6" y1="347.6" x2="237.6" y2="349.20000000000005" stroke="#000" stroke-width="0.7" />
<line x1="239.9" y1="347.6" x2="239.9" y2="349.20000000000005" stroke="#000" stroke-width="0.7" />
<line x1="241.7" y1="347.6" x2="241.7" y2="349.20000000000005" stroke="#000" stroke-width="0.7" />
<line x1="243.1" y1="347.6" x2="243.1" y2="349.20000000000005" stroke="#000" stroke-width="0.7" />
<line x1="244.3" y1="347.6" x2="244.3" y2="349.20000000000005" stroke="#000" stroke-width="0.7" />
<line x1="245.4" y1="347.6" x2="245.4" y2="349.20000000000005" stroke="#000" stroke-width="0.7" />
<line x1="246.3" y1="347.6" x2="246.3" y2="349.20000000000005" stroke="#000" stroke-width="0.7" />
<line x1="247.1" y1="347.6" x2="247.1" y2="350.0" stroke="#000" stroke-width="0.7" />
<line x1="252.6" y1="347.6" x2="252.6" y2="349.20000000000005" stroke="#000" stroke-width="0.7" />
<line x1="255.8" y1="347.6" x2="255.8" y2="349.20000000000005" stroke="#000" stroke-width="0.7" />
<line x1="258.1" y1="347.6" x2="258.1" y2="349.20000000000005" stroke="#000" stroke-width="0.7" />
<line x1="259.8" y1="347.6" x2="259.8" y2="349.20000000000005" stroke="#000" stroke-width="0.7" />
<line x1="261.3" y1="347.6" x2="261.3" y2="349.20000000000005" stroke="#000" stroke-width="0.7" />
<line x1="262.5" y1="347.6" x2="262.5" y2="349.20000000000005" stroke="#000" stroke-width="0.7" />
<line x1="263.5" y1="347.6" x2="263.5" y2="349.20000000000005" stroke="#000" stroke-width="0.7" />
<line x1="264.5" y1="347.6" x2="264.5" y2="349.20000000000005" stroke="#000" stroke-width="0.7" />
<line x1="265.3" y1="347.6" x2="265.3" y2="350.0" stroke="#000" stroke-width="0.7" />
<path d="M39.8,331.8 H41.0 V328.0 H42.3 V325.4 H43.5 V322.4 H44.8 V320.1 H46.0 V314.3 H47.3 V308.5 H48.5 V303.7 H49.8 V299.7 H51.0 V295.0 H52.3 V292.8 H53.5 V293.8 H54.8 V294.2 H56.0 V301.7 H57.3 V310.9 H58.5 V322.2 H59.8 V331.3 H61.0 V337.1 H62.3 V341.6 H63.5 V342.5 H64.8 V343.7 H66.0 V344.3 H67.3 V343.9 H68.5 V345.5 H69.8 V345.7 H71.0 V345.6 H72.3 V345.4 H73.5 V347.1 H74.8 V346.6 H76.0 V347.3 H77.3 V347.6 H77.8 V347.6" fill="none" stroke="#8a8a8a" stroke-width="1"/>
<path d="M39.8,347.0 H41.0 V346.8 H42.3 V346.6 H43.5 V346.3 H44.8 V346.1 H46.0 V345.1 H47.3 V344.8 H48.5 V342.6 H49.8 V342.7 H51.0 V343.0 H52.3 V341.6 H53.5 V341.1 H54.8 V338.7 H56.0 V339.4 H57.3 V339.8 H58.5 V341.4 H59.8 V342.4 H61.0 V342.1 H62.3 V342.5 H63.5 V342.1 H64.8 V342.8 H66.0 V341.4 H67.3 V339.1 H68.5 V339.0 H69.8 V336.2 H71.0 V335.6 H72.3 V332.7 H73.5 V329.5 H74.8 V327.0 H76.0 V321.7 H77.3 V314.3 H78.5 V305.1 H79.8 V297.1 H81.0 V292.9 H82.3 V293.4 H83.5 V295.4 H84.8 V302.5 H86.0 V310.0 H87.3 V326.6 H88.5 V336.3 H89.8 V340.5 H91.0 V343.2 H92.3 V344.4 H93.5 V345.9 H94.6 V346.6" fill="none" stroke="#000" stroke-width="1.0"/>
<path d="M116.8,338.0 H118.0 V334.7 H119.3 V330.9 H120.5 V327.4 H121.8 V320.5 H123.0 V316.7 H124.3 V311.0 H125.5 V305.1 H126.8 V300.7 H128.1 V295.5 H129.3 V295.0 H130.6 V296.6 H131.8 V305.3 H133.1 V315.2 H134.3 V324.3 H135.6 V332.8 H136.8 V339.9 H138.1 V344.4 H139.3 V346.9 H140.6 V346.4 H141.8 V346.2 H143.1 V347.5 H144.3 V346.0 H145.6 V347.6 H146.8 V346.7 H148.1 V346.7 H148.1 V346.6" fill="none" stroke="#777" stroke-width="1"/>
<path d="M116.8,338.0 H118.0 V334.7 H119.3 V332.2 H120.5 V326.6 H121.8 V321.5 H123.0 V316.0 H124.3 V310.9 H125.5 V306.6 H126.8 V300.3 H128.1 V296.5 H129.3 V295.0 H130.6 V297.3 H131.8 V306.0 H133.1 V314.9 H134.3 V324.2 H135.6 V332.9 H136.8 V340.0 H138.1 V343.5 H139.3 V345.7 H140.6 V346.1 H141.8 V347.0 H143.1 V346.4 H144.3 V346.2 H145.6 V346.6 H146.8 V347.6 H148.1 V346.7 H148.1 V347.5" fill="none" stroke="#000" stroke-width="1.1"/>
<rect x="193.3" y="304.5" width="1.7" height="41" fill="#888"/>
<path d="M193.0,344.2 H194.2 V342.1 H195.5 V340.6 H196.8 V340.0 H198.0 V337.9 H199.2 V336.3 H200.5 V331.9 H201.8 V326.9 H203.0 V323.4 H204.2 V318.3 H205.5 V312.5 H206.8 V305.3 H208.0 V296.4 H209.2 V292.5 H210.5 V298.8 H211.8 V308.7 H213.0 V319.2 H214.2 V331.7 H215.5 V339.0 H216.8 V343.6 H218.0 V344.0 H219.2 V343.6 H220.5 V343.7 H221.8 V344.7 H223.0 V343.9 H224.2 V344.3 H225.5 V344.4 H226.8 V344.1 H228.0 V345.7 H229.2 V346.5 H230.5 V347.6 H231.5 V347.3" fill="none" stroke="#000" stroke-width="1.0"/>
<line x1="298.8" y1="255.1" x2="312.2" y2="255.1" stroke="#000" stroke-width="1.6" />
<line x1="318" y1="255.1" x2="349.6" y2="255.1" stroke="#000" stroke-width="1.6" />
<line x1="355" y1="255.1" x2="364.2" y2="255.1" stroke="#000" stroke-width="1.6" />
<rect x="328.9" y="251.8" width="7.3" height="7.3" fill="#fff" stroke="#000" stroke-width="1.5"/>
<line x1="298.8" y1="290.1" x2="365" y2="290.1" stroke="#000" stroke-width="1.6" />
<path d="M331.6,285.2 L337.2,295.4 L326,295.4 Z" fill="#fff" stroke="#000" stroke-width="1.8"/>
<line x1="298.8" y1="342" x2="364.2" y2="342" stroke="#000" stroke-width="1.6" />
<circle cx="332.4" cy="342.0" r="4.3" fill="#000"/>
<text transform="translate(370.6,262.9) scale(1.06,1)" font-size="16" font-weight="bold" letter-spacing="0.3">BCL<tspan font-size="10" dy="6">1</tspan><tspan dy="-6"> + TCD BM</tspan></text>
<text transform="translate(370.6,298.2) scale(1.06,1)" font-size="16" font-weight="bold" letter-spacing="0.3">BCL<tspan font-size="10" dy="6">1</tspan><tspan dy="-6"> + TCD BM +</tspan></text>
<text transform="translate(370.6,319.4) scale(1.06,1)" font-size="16" font-weight="bold" letter-spacing="0.3">T cells (PBS)</text>
<text transform="translate(370.6,349.9) scale(1.06,1)" font-size="16" font-weight="bold" letter-spacing="0.3">BCL<tspan font-size="10" dy="6">1</tspan><tspan dy="-6"> + TCD BM +</tspan></text>
<text transform="translate(370.6,371.0) scale(1.06,1)" font-size="16" font-weight="bold" letter-spacing="0.3">T cells (CD28-SA)</text>
</svg>
</body></html>
